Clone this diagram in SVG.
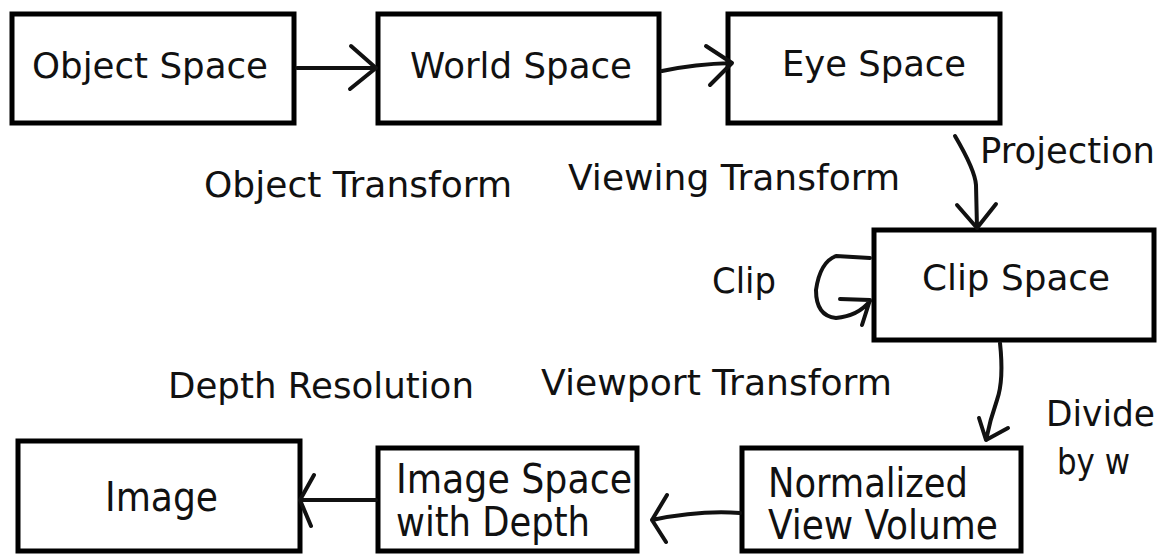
<svg xmlns="http://www.w3.org/2000/svg" width="1164" height="556" viewBox="0 0 1164 556">
<style>
.box{fill:#fff;stroke:#000;stroke-width:5}
.t{font-family:"DejaVu Sans",Verdana,sans-serif;font-size:35px;fill:#111}
.c{font-family:"DejaVu Sans Condensed","DejaVu Sans",sans-serif;font-size:40px;fill:#111}
.cn{fill:none;stroke:#111;stroke-width:4;stroke-linecap:round;stroke-linejoin:round}
</style>
<rect width="1164" height="556" fill="#fff"/>
<g id="object-space"><rect class="box" x="12" y="14" width="282" height="109"/><text class="t" x="32" y="78" textLength="236" lengthAdjust="spacingAndGlyphs">Object Space</text></g>
<g id="world-space"><rect class="box" x="378" y="14" width="281" height="109"/><text class="t" x="410" y="78" textLength="222" lengthAdjust="spacingAndGlyphs">World Space</text></g>
<g id="eye-space"><rect class="box" x="728" y="14" width="272" height="109"/><text class="t" x="782" y="76" textLength="184" lengthAdjust="spacingAndGlyphs">Eye Space</text></g>
<g id="clip-space"><rect class="box" x="874" y="230" width="280" height="110"/><text class="t" x="922" y="290" textLength="188" lengthAdjust="spacingAndGlyphs">Clip Space</text></g>
<g id="image"><rect class="box" x="18" y="441" width="282" height="110"/><text class="c" x="105" y="511" textLength="113" lengthAdjust="spacingAndGlyphs">Image</text></g>
<g id="image-space"><rect class="box" x="378" y="448" width="259" height="103"/><text class="c" x="396" y="493" textLength="236" lengthAdjust="spacingAndGlyphs">Image Space</text><text class="c" x="396" y="536" textLength="194" lengthAdjust="spacingAndGlyphs">with Depth</text></g>
<g id="normalized"><rect class="box" x="742" y="448" width="279" height="103"/><text class="c" x="768" y="497" textLength="200" lengthAdjust="spacingAndGlyphs">Normalized</text><text class="c" x="768" y="539" textLength="230" lengthAdjust="spacingAndGlyphs">View Volume</text></g>
<g id="labels">
<text class="t" x="204" y="197" textLength="308" lengthAdjust="spacingAndGlyphs">Object Transform</text>
<text class="t" x="568" y="190" textLength="332" lengthAdjust="spacingAndGlyphs">Viewing Transform</text>
<text class="t" x="980" y="163" textLength="175" lengthAdjust="spacingAndGlyphs">Projection</text>
<text class="t" x="712" y="293" textLength="64" lengthAdjust="spacingAndGlyphs">Clip</text>
<text class="t" x="168" y="398" textLength="306" lengthAdjust="spacingAndGlyphs">Depth Resolution</text>
<text class="t" x="541" y="395" textLength="351" lengthAdjust="spacingAndGlyphs">Viewport Transform</text>
<text class="t" x="1046" y="426" textLength="109" lengthAdjust="spacingAndGlyphs">Divide</text>
<text class="t" x="1057" y="474" textLength="73" lengthAdjust="spacingAndGlyphs">by w</text>
</g>
<g id="connectors">
<path class="cn" d="M297 68 L376 68 M351 46 L376 68 L350 89"/>
<path class="cn" d="M662 71 Q695 64 732 63 M706 46 L732 63 L710 85"/>
<path class="cn" d="M955 136 Q975 170 976 185 L977 228 M957 205 L977 228 L996 204"/>
<path class="cn" d="M870 258 L836 256 Q820 262 816 290 Q816 316 836 318 Q858 316 870 301 M840 299 L870 300 L862 325"/>
<path class="cn" d="M1000 343 Q1004 380 997 400 Q990 420 986 440 M979 418 L986 440 L1008 428"/>
<path class="cn" d="M740 513 Q700 510 652 520 M667 495 L652 520 L666 542"/>
<path class="cn" d="M376 500 Q340 500 300 500 M314 475 L300 500 L311 526"/>
</g>
</svg>
